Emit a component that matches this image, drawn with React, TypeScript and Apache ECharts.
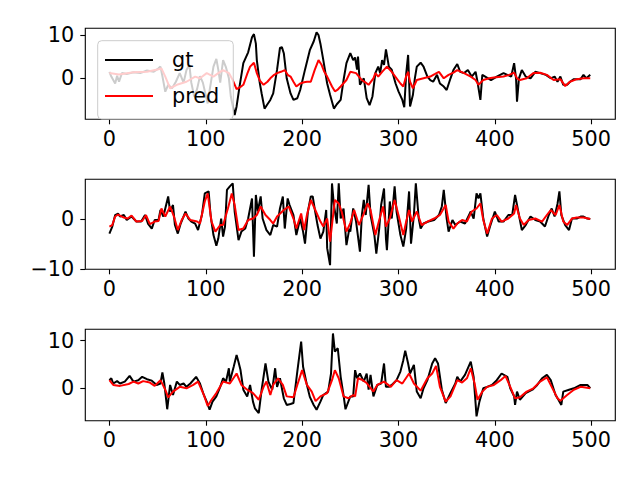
import React, { useEffect, useRef } from "react";
import * as echarts from "echarts";

const xTicks = [0, 100, 200, 300, 400, 500];

const gt1: number[][] = [[0,1.5],[2,0.4],[6,-1.2],[8,0.6],[10,-0.8],[13,1.2],[18,1.0],[25,1.4],[32,1.2],[39,1.8],[46,1.5],[51,2.3],[53,2.7],[55,0.5],[58,-3.1],[61,-1.5],[65,-2.3],[69,-0.8],[73,1.2],[77,-1.0],[80,1.9],[83,3.1],[85,-1.0],[88,-4.2],[91,-2.5],[94,0.5],[97,-1.0],[102,-5.8],[104,-2.8],[108,2.7],[111,4.5],[113,2.0],[115,-1.0],[118,4.2],[121,2.5],[124,0],[126,-4.2],[130,-8.5],[132,-6.5],[135,-2],[139,3.5],[144,6],[148,9.5],[150,10.2],[152,8],[153,4.2],[156,-1],[158,-3.5],[161,-7],[164,-6],[167,-5],[170,-3.5],[174,2],[177,7],[179,7.2],[181,5.8],[184,0],[188,-3.5],[191,-5],[195,-4.6],[198,-2.7],[203,2],[208,6.5],[212,8.5],[215,10.6],[217,10],[219,8],[222,4.2],[226,-1.2],[229,-3.8],[233,-7],[236,-6],[240,-5],[243,-0.4],[246,3.5],[250,5.8],[253,4.2],[255,4.8],[257,2],[258,5],[260,-1.5],[264,0],[267,-4.6],[270,-6.2],[273,-4.2],[276,1.2],[279,2.7],[281,1.2],[283,4.2],[285,3.1],[287,6.7],[290,2.7],[293,2.0],[297,-1.2],[300,-3],[304,-5],[306,-6.7],[308,1],[310,5.4],[312,-6.5],[315,-3.8],[317,0],[319,2.7],[323,3.6],[326,2.7],[330,0.4],[333,-0.4],[336,-0.8],[340,0.8],[343,-1.2],[347,-1.9],[350,-2.7],[354,0],[357,1.9],[361,3.3],[364,1.5],[368,1.2],[372,1.9],[376,0.4],[380,1.5],[382,-0.8],[385,-5],[387,0.8],[390,0.4],[396,-0.4],[402,0.4],[409,1.2],[413,0.8],[417,0.4],[420,3.5],[422,0],[423,-5.4],[425,0],[428,1.9],[432,0.4],[437,0],[442,1.5],[447,1.2],[453,0.8],[458,0],[462,0.4],[465,-0.8],[468,0.4],[471,-1.5],[475,-1.5],[478,-0.8],[482,-0.2],[489,-0.2],[492,0.8],[495,0],[499,0.8]];

const pred1: number[][] = [[0,1.2],[10,0.9],[25,1.4],[39,1.5],[51,2.1],[54,2.3],[58,0.4],[63,-2.3],[70,-1.5],[80,-0.8],[89,0.4],[94,0],[101,1.2],[108,0.4],[113,1.2],[118,1.9],[124,1.2],[128,-0.4],[132,-2.5],[136,-2.0],[139,-1.5],[143,1.0],[146,2.7],[150,3.6],[153,1.2],[156,-0.5],[160,-1.5],[164,-0.8],[167,0],[171,0.8],[174,1.2],[178,1.5],[182,1.9],[185,0.8],[188,0.4],[191,-0.8],[194,-1.9],[198,-1.2],[202,-0.9],[205,-0.8],[209,-0.8],[213,1.9],[217,4.2],[220,3.2],[223,1.5],[226,0.4],[231,-1.9],[234,-3],[237,-2.6],[240,-1.9],[246,-0.4],[250,1.5],[256,1.2],[262,-0.4],[266,-1.0],[269,-1.5],[274,0],[276,1.2],[279,0.4],[283,1.5],[288,2.7],[293,1.5],[298,0],[302,-1.2],[305,-1.9],[308,0.5],[310,1.5],[312,-0.8],[315,-2.3],[319,-0.4],[326,0],[333,0.4],[338,1.0],[342,1.5],[347,0],[352,0.8],[357,1.3],[361,1.9],[368,1.2],[375,0.4],[380,-0.4],[383,-1.5],[388,-0.4],[394,0],[399,0.2],[409,0.4],[415,0.8],[420,1.3],[423,0],[426,-0.4],[433,0],[440,1.2],[447,1.3],[454,0.8],[461,-0.4],[468,-0.2],[473,-1.8],[478,-0.8],[485,-0.2],[492,0],[499,0]];

const gt2: number[][] = [[0,-2.9],[3,-1.5],[6,0.8],[9,1.1],[11,0.5],[15,0.8],[18,-0.2],[23,0.5],[28,-0.5],[33,-0.5],[37,0.8],[40,-0.9],[44,-1.9],[47,-0.2],[51,-0.2],[53,1.8],[56,0.5],[61,4.5],[63,1.5],[66,2.8],[68,-1.2],[71,-2.9],[74,-0.9],[79,1.5],[82,0.1],[85,-0.5],[89,-0.9],[92,-2.2],[96,0.8],[99,5.1],[103,5.5],[105,0.8],[108,-3.2],[111,-5.3],[113,-3.9],[116,0.1],[118,-3.5],[120,-1.5],[122,5.8],[125,6.5],[128,7.1],[130,1.5],[134,-4.2],[137,-2.5],[141,-1.9],[144,0.1],[148,4.1],[150,-7.5],[152,4.8],[154,1.5],[157,4.5],[159,0.1],[163,-2.2],[167,-3.2],[170,-1.2],[174,-1.5],[177,2.1],[180,4.5],[182,-1.9],[185,4.1],[187,2.8],[191,0.8],[194,-3.2],[198,0.1],[201,-2.5],[203,-4.9],[206,1.5],[209,4.5],[211,4.5],[213,2.1],[216,-1.2],[219,-3.9],[222,-2.5],[225,1.8],[226,-5.8],[229,-9.2],[231,7.1],[233,2.8],[236,-0.9],[238,7.1],[240,0.1],[243,2.1],[246,-5.2],[249,-1.9],[250,-2.5],[253,2.1],[256,-0.5],[260,-6.5],[262,0.8],[264,3.8],[266,0.8],[269,6.8],[271,0.8],[275,-3.2],[277,-6.9],[280,-1.9],[282,2.8],[285,6.1],[287,-3.9],[288,-6.2],[291,3.5],[293,0.1],[296,6.5],[298,1.5],[302,-3.2],[305,-5.5],[308,-1.9],[311,5.5],[313,-4.9],[316,0.8],[318,7.1],[321,0.1],[323,-1.9],[326,-0.9],[331,-0.5],[337,-0.2],[342,0.8],[345,2.5],[347,5.8],[350,0.1],[352,-2.5],[356,-0.2],[359,-1.2],[364,-0.5],[369,-0.9],[375,1.5],[378,0.1],[381,5.1],[383,4.1],[385,5.1],[388,0.1],[392,-3.5],[395,-1.5],[400,1.5],[404,-0.5],[409,-0.5],[414,0.8],[418,0.8],[421,4.8],[425,0.8],[428,-2.2],[432,-1.2],[437,0.5],[442,-0.2],[447,-0.5],[452,-1.5],[456,0.8],[459,2.1],[462,0.5],[465,3.0],[467,5.5],[469,0.8],[473,-1.2],[477,-2.2],[480,0.1],[485,0.1],[489,0.5],[492,0.5],[496,0.1],[499,0]];

const pred2: number[][] = [[0,-1.5],[3,-1.2],[6,0.5],[9,0.9],[15,0.3],[19,0.1],[23,0.7],[28,-0.5],[34,-0.4],[38,0.8],[42,-1.0],[47,-0.5],[51,-0.4],[54,2.1],[58,0.5],[63,2.5],[67,0.5],[71,-2.2],[75,-0.2],[79,1.1],[84,-0.2],[91,-0.5],[94,-0.9],[99,3.5],[102,5.1],[106,-0.5],[110,-2.5],[115,-1.2],[118,-1.2],[123,2.1],[127,5.1],[130,2.8],[134,-2.2],[139,-1.9],[144,-0.2],[149,0.1],[153,0.8],[157,2.5],[162,0.8],[167,-0.2],[170,-0.9],[174,0.5],[181,1.8],[186,2.5],[191,0.1],[194,-1.9],[199,1.1],[202,-2.2],[205,0.8],[209,3.8],[213,2.1],[219,-0.5],[222,-1.5],[226,0.1],[229,-4.5],[234,3.8],[238,3.1],[241,1.5],[246,-2.5],[250,-0.8],[254,1.8],[259,-1.2],[264,1.1],[268,3.1],[271,1.8],[276,-3.2],[280,-0.2],[284,2.5],[287,-1.5],[291,0.1],[296,3.8],[300,0.8],[305,-3.2],[308,-0.5],[311,1.8],[314,-0.5],[319,1.5],[324,-1.2],[330,-0.5],[337,0.1],[343,0.8],[349,2.8],[352,-0.5],[357,-1.9],[361,-0.9],[366,-0.2],[371,-0.5],[376,1.5],[381,2.1],[385,3.1],[388,-0.2],[392,-2.9],[397,0.1],[402,0.8],[407,-0.5],[414,0.1],[420,1.1],[422,2.8],[426,0.1],[430,-1.2],[435,-0.2],[442,0.1],[449,-0.5],[454,0.8],[458,1.8],[463,0.8],[467,2.8],[471,-0.5],[475,-1.2],[480,0.1],[485,0.3],[492,0.3],[499,0]];

const gt3: number[][] = [[0,1.7],[2,2.1],[4,1.0],[8,1.5],[11,1.0],[16,1.4],[21,2.6],[25,1.4],[30,1.7],[34,2.4],[39,1.9],[44,1.6],[49,0.7],[53,1.0],[55,3.3],[57,1.0],[60,-4.4],[63,0.7],[66,-1.4],[70,1.4],[73,0.7],[77,1.0],[80,0.3],[84,1.0],[90,2.4],[94,1.0],[98,-1.4],[101,-2.8],[104,-4.5],[107,-2.8],[111,-1.7],[115,0.3],[118,2.1],[121,1.4],[124,4.2],[125,1.4],[129,4.5],[132,7],[134,5.5],[136,3.9],[139,-0.3],[143,-1.7],[146,0.7],[149,-2.8],[151,-4.2],[155,-5.2],[158,-0.3],[162,5.2],[165,1.4],[169,-0.3],[172,4.2],[174,0.3],[177,2.1],[181,-2.1],[184,-3.5],[188,-3.3],[191,-3.1],[195,3.5],[199,9.8],[201,4.5],[205,0.7],[208,-1.8],[212,-3.5],[215,-4.5],[219,-2.8],[222,-1.4],[227,-0.7],[230,3.1],[232,11.5],[234,7.7],[237,8.4],[240,2.4],[243,-1.5],[245,-4.4],[250,-1.7],[253,-1.7],[255,3.8],[257,2.1],[260,3.1],[264,1.4],[267,3.1],[269,-0.3],[271,2.8],[274,-1.7],[278,0.7],[282,1.0],[285,5.2],[287,0.3],[290,0.3],[293,0.7],[298,1.7],[302,3.5],[305,5.9],[307,7.9],[310,5.2],[312,3.1],[316,4.9],[319,-0.7],[323,-2.1],[326,0],[330,1.7],[335,5.2],[338,6.3],[341,5.2],[345,-0.3],[349,-3.1],[354,-1.0],[359,1.0],[361,2.4],[364,1.4],[369,2.8],[375,5.6],[378,2.4],[380,-3.1],[381,-5.9],[384,-2.8],[388,0],[392,0.3],[397,0.7],[402,1.7],[407,3.1],[413,2.4],[416,0],[420,-1.7],[421,-3.5],[423,-0.7],[426,-2.4],[432,-1.0],[439,-0.3],[444,0.7],[449,2.1],[454,2.8],[458,1.7],[463,-1.4],[466,-2.4],[469,-3.5],[471,-0.7],[477,-0.3],[482,0],[489,0.7],[496,0.7],[499,0]];

const pred3: number[][] = [[0,1.7],[4,0.7],[11,0.5],[20,0.9],[25,1.4],[30,1.0],[35,1.5],[42,1.2],[47,0.5],[53,1.7],[58,-0.3],[61,-1.9],[66,-0.7],[73,0.3],[80,0],[87,0.7],[92,1.4],[98,-1.4],[102,-3.7],[106,-2.4],[111,-1.0],[118,1.4],[125,1.0],[132,3.1],[137,0.7],[143,-0.3],[149,-1.0],[155,-2.4],[160,0.3],[163,1.4],[167,-1.4],[170,0.7],[175,2.1],[180,0.7],[184,-1.7],[191,-1.9],[195,0.7],[200,3.8],[205,0.7],[210,-0.7],[214,-2.7],[219,-1.7],[226,-1.0],[231,1.7],[234,3.8],[238,2.1],[243,-1.7],[248,-2.1],[253,-1.4],[255,-1.7],[258,2.1],[262,1.8],[267,1.1],[274,-0.7],[278,0.7],[285,1.4],[292,0.3],[298,1.7],[304,1.0],[311,3.1],[316,1.0],[323,-0.5],[330,2.1],[335,3.1],[339,4.7],[343,0.3],[349,-2.8],[354,-1.7],[361,1.7],[366,1.2],[371,2.1],[375,4.2],[379,1.0],[382,-2.4],[387,-0.7],[392,0.3],[399,0.7],[406,1.7],[411,2.6],[416,0.3],[421,-2.1],[426,-1.9],[433,-0.7],[440,0],[447,1.4],[454,2.3],[459,0.3],[465,-2.1],[468,-2.6],[475,-1.4],[482,-0.3],[489,0.3],[499,0]];

const yRanges = [
  { min: -9.47, max: 11.55, ticks: [0, 10] },
  { min: -10.02, max: 7.92, ticks: [-10, 0] },
  { min: -6.8, max: 12.37, ticks: [0, 10] },
];

const gridBoxes = [
  { top: 28.3, height: 91 },
  { top: 179.3, height: 90 },
  { top: 329.3, height: 91.4 },
];

const FONT = "DejaVu Sans";
const FS = 20.8;
const fmt = (v: number) => String(v).replace("-", "\u2212");

export default function App() {
  const ref = useRef<HTMLDivElement>(null);
  useEffect(() => {
    if (!ref.current) return;
    const chart = echarts.init(ref.current, undefined, { renderer: "svg" });
    const grids = gridBoxes.map((g) => ({
      left: 85.3,
      width: 530,
      top: g.top,
      height: g.height,
      show: true,
      borderColor: "#000",
      borderWidth: 1.1,
      backgroundColor: "transparent",
      containLabel: false,
    }));
    const xAxes = gridBoxes.map((_, i) => ({
      type: "value",
      gridIndex: i,
      position: "bottom",
      min: -25,
      max: 525,
      axisLine: { show: false, onZero: false },
      splitLine: { show: false },
      axisTick: { show: true, inside: false, length: 5, customValues: xTicks, lineStyle: { color: "#000", width: 1.1 } },
      axisLabel: { show: true, customValues: xTicks, margin: 9, fontSize: FS, fontFamily: FONT, color: "#000", formatter: fmt },
    }));
    const yAxes = yRanges.map((r, i) => ({
      type: "value",
      gridIndex: i,
      position: "left",
      min: r.min,
      max: r.max,
      axisLine: { show: false, onZero: false },
      splitLine: { show: false },
      axisTick: { show: true, inside: false, length: 5, customValues: r.ticks, lineStyle: { color: "#000", width: 1.1 } },
      axisLabel: { show: true, customValues: r.ticks, margin: 11, fontSize: FS, fontFamily: FONT, color: "#000", formatter: fmt },
    }));
    const mk = (name: string, data: number[][], i: number, color: string) => ({
      type: "line",
      name,
      data,
      xAxisIndex: i,
      yAxisIndex: i,
      showSymbol: false,
      symbol: "none",
      lineStyle: { color, width: 2 },
      itemStyle: { color },
      emphasis: { disabled: true },
    });
    chart.setOption({
      animation: false,
      grid: grids,
      xAxis: xAxes,
      yAxis: yAxes,
      legend: {
        left: 97.7,
        top: 40.7,
        orient: "vertical",
        icon: "rect",
        itemWidth: 48,
        itemHeight: 2,
        itemGap: 12,
        padding: [7.3, 14, 11, 7.3],
        backgroundColor: "rgba(255,255,255,0.8)",
        borderColor: "#cccccc",
        borderWidth: 1,
        borderRadius: 4,
        textStyle: { fontSize: FS, fontFamily: FONT, color: "#000", lineHeight: 24, padding: [0, 0, 0, 14] },
        data: ["gt", "pred"],
      },
      series: [
        mk("gt", gt1, 0, "#000000"),
        mk("pred", pred1, 0, "#ff0000"),
        mk("gt", gt2, 1, "#000000"),
        mk("pred", pred2, 1, "#ff0000"),
        mk("gt", gt3, 2, "#000000"),
        mk("pred", pred3, 2, "#ff0000"),
      ],
    });
    return () => chart.dispose();
  }, []);
  return <div ref={ref} style={{ position: "fixed", left: 0, top: 0, width: 640, height: 480, background: "#fff" }} />;
}
